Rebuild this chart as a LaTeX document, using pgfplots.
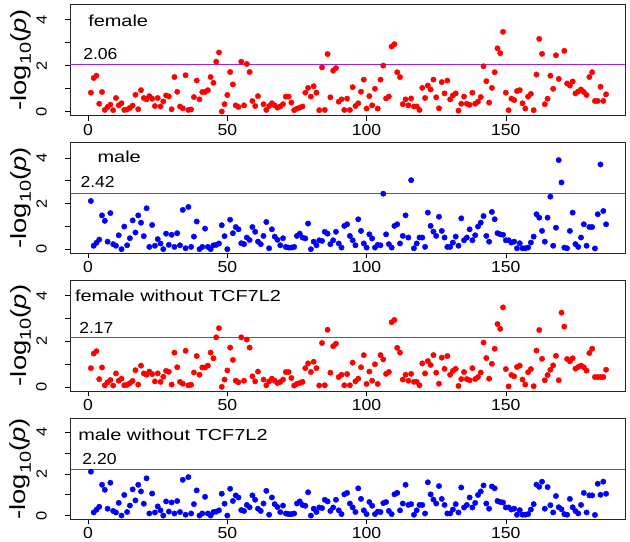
\documentclass[border=0pt]{standalone}
\usepackage{fontspec}
\setmainfont[FakeStretch=1.25]{Liberation Sans}
\newfontfamily\numfont[FakeStretch=1.1]{Liberation Sans}
\usepackage{pgfplots}
\pgfplotsset{compat=1.18}
\definecolor{rred}{RGB}{255,0,0}
\definecolor{rblue}{RGB}{0,0,255}
\definecolor{rpurple}{RGB}{160,32,240}
\tikzset{ttl/.style={anchor=base west, font=\fontsize{16}{18}\selectfont},
         thl/.style={anchor=base west, font=\numfont\fontsize{16}{18}\selectfont},
         ylb/.style={rotate=90, anchor=south, inner sep=0pt, font=\numfont\fontsize{15}{17}\selectfont}}
\newcommand{\ylabs}{%
  \node[ylb] at ([xshift=-23bp]axis cs:-6.5,0) {0};
  \node[ylb] at ([xshift=-23bp]axis cs:-6.5,2) {2};
  \node[ylb] at ([xshift=-23bp]axis cs:-6.5,4) {4};}
\pgfplotsset{panel/.style={
  scale only axis, width=555bp,
  xmin=-6.5, xmax=192.8, ymin=-0.18, ymax=4.68,
  xtick={0,50,100,150}, ytick={0,1,2,3,4}, yticklabels={,,,,},
  tick align=outside, major tick length=5bp,
  xtick pos=bottom, ytick pos=left,
  tick style={black, line width=0.6pt},
  axis line style={black!85, line width=0.8pt},
  /pgf/number format/assume math mode=true,
  xticklabel style={font=\numfont\fontsize{16}{18}\selectfont},
  ylabel={-log\raisebox{-0.22em}{\fontsize{16}{16}\selectfont 10}(\textit{p})},
  ylabel style={at={(axis description cs:0,0.5)}, anchor=base, yshift=44bp, inner sep=0pt, font=\fontsize{22}{24}\selectfont},
  anchor=south west, clip=false,
},
pts/.style={only marks, mark=*, mark size=2.7bp, mark options={draw=#1, fill=#1}},
thr/.style={draw=rpurple, color=rpurple, line width=1.1bp, no marks},
}
\begin{document}
\begin{tikzpicture}[x=1bp,y=1bp]
\path[use as bounding box] (0,0) rectangle (630,542);
% ---------- female
\begin{axis}[panel, height=111.7bp, at={(70bp,426.3bp)}]
\addplot[thr] coordinates {(-6.5,2.06) (192.8,2.06)};
\addplot[pts=rred] coordinates {
(1,0.82)(2,1.46)(3,1.56)(4,0.34)(5,0.85)(6,0.07)(7,0.20)(8,0.30)(9,0.06)(10,0.59)
(11,0.27)(12,0.36)(13,0.07)(14,0.09)(15,0.16)(16,0.26)(17,0.73)(18,0.10)(19,0.93)(20,0.59)
(21,0.53)(22,0.67)(23,0.56)(24,0.24)(25,0.59)(26,0.22)(27,0.44)(28,0.70)(29,0.66)(30,0.10)
(31,1.50)(32,0.86)(33,0.22)(34,0.14)(35,1.58)(36,0.07)(37,0.09)(38,0.63)(39,1.35)(40,0.53)
(41,0.85)(42,0.85)(43,0.93)(44,1.50)(45,1.25)(46,2.17)(47,2.57)(48,0.00)(49,0.32)(50,0.72)
(51,1.72)(52,1.18)(53,0.27)(54,0.20)(55,2.17)(56,0.27)(57,2.07)(58,1.72)(59,0.46)(60,0.24)
(61,0.67)(63,0.32)(64,0.07)(65,0.24)(66,0.36)(67,0.27)(68,0.17)(69,0.22)(70,0.32)
(71,0.65)(72,0.65)(73,0.39)(74,0.06)(75,0.13)(76,0.17)(77,0.22)(78,0.82)(79,1.03)(80,0.65)
(81,1.10)(82,0.82)(83,0.06)(84,1.92)(85,0.07)(86,2.50)(87,0.62)(88,1.78)(89,1.89)(90,0.43)
(91,0.53)(92,0.07)(93,0.56)(94,0.07)(95,1.06)(96,0.24)(97,0.36)(98,0.86)(99,1.39)(100,0.13)
(101,0.67)(102,0.27)(103,0.99)(104,0.13)(105,1.39)(106,2.00)(107,0.57)(108,0.65)(109,2.83)(110,2.93)
(111,1.71)(112,1.50)(113,0.32)(114,0.53)(115,0.27)(116,0.57)(117,0.22)(118,0.22)(119,0.07)(120,1.03)
(121,0.59)(122,1.13)(123,0.96)(124,1.39)(125,0.62)(126,0.14)(127,1.28)(128,0.79)(129,1.35)(130,0.53)
(131,0.70)(132,0.79)(133,0.04)(134,0.34)(135,0.65)(136,0.34)(137,0.29)(138,0.82)(139,0.34)(140,0.43)
(141,0.63)(142,1.97)(143,1.32)(144,0.39)(145,1.03)(146,1.71)(147,2.75)(148,2.54)(149,3.47)(150,0.82)
(151,0.06)(152,0.56)(153,0.50)(154,0.89)(155,0.93)(156,0.36)(157,0.13)(158,0.65)(159,0.77)(160,0.06)
(161,1.61)(162,3.16)(163,2.51)(164,0.32)(165,0.56)(166,1.56)(167,0.99)(168,2.45)(169,1.42)
(171,2.64)(172,1.22)(173,1.13)(174,1.31)(175,0.79)(176,0.87)(177,0.96)(178,0.85)(179,0.72)(180,1.50)
(181,1.71)(182,0.46)(183,0.46)(184,1.08)(185,0.46)(186,0.75)};
\node[ttl] at (axis cs:-1.2,3.72) {female};
\node[thl] at (axis cs:-3.0,2.28) {2.06};
\ylabs
\end{axis}
% ---------- male
\begin{axis}[panel, height=111bp, at={(70bp,288.7bp)}]
\addplot[thr] coordinates {(-6.5,2.42) (192.8,2.42)};
\addplot[pts=rblue] coordinates {
(1,2.11)(2,0.15)(3,0.28)(4,0.42)(5,1.48)(6,1.24)(7,0.33)(8,1.58)(9,0.22)(10,0.15)
(11,0.61)(12,0.00)(13,0.99)(14,0.17)(15,0.48)(16,1.26)(17,0.73)(18,1.48)(19,1.16)(20,0.57)
(21,1.79)(22,0.10)(23,1.06)(24,0.15)(25,0.44)(26,0.25)(27,0.00)(28,0.68)(29,0.19)(30,0.63)
(31,0.10)(32,0.70)(33,0.17)(34,1.72)(35,0.04)(36,1.85)(37,0.10)(38,0.55)(39,1.21)(40,0.00)
(41,0.10)(42,0.90)(43,0.10)(44,0.00)(45,0.17)(46,0.19)(47,0.25)(48,1.05)(49,0.57)(50,0.00)
(51,1.29)(52,0.70)(53,0.97)(54,0.87)(55,0.26)(56,0.22)(57,0.51)(58,0.40)(59,0.97)(60,0.76)
(61,0.33)(62,0.22)(63,0.58)(64,1.19)(65,0.04)(66,0.87)(67,0.55)(68,0.41)(69,0.17)(70,0.48)
(71,0.10)(72,0.07)(73,0.07)(74,0.10)(75,0.58)(76,0.68)(77,0.51)(78,0.47)(79,1.12)(80,0.00)
(81,0.33)(82,0.17)(83,0.39)(84,0.36)(85,0.76)(86,0.68)(87,0.22)(88,0.39)(89,0.76)(90,0.25)
(91,0.07)(92,1.02)(93,1.09)(94,0.58)(95,0.39)(96,0.17)(97,1.31)(98,0.80)(99,0.25)(100,0.07)
(101,0.65)(102,0.47)(103,0.07)(104,0.19)(105,0.17)(106,2.43)(107,0.65)(108,0.22)(109,0.07)(110,1.02)
(111,1.09)(112,0.25)(113,0.58)(114,1.48)(115,0.51)(116,3.02)(117,0.04)(118,0.25)(119,0.51)(120,0.51)
(121,0.10)(122,1.60)(123,1.02)(124,0.77)(125,0.58)(126,1.42)(127,0.80)(128,0.51)(129,0.10)(130,0.10)
(131,0.29)(132,0.55)(133,0.15)(134,1.35)(135,0.39)(136,0.51)(137,0.87)(138,0.39)(139,0.61)(140,0.99)
(141,1.16)(142,1.45)(143,0.58)(144,0.33)(145,1.63)(146,1.31)(147,0.70)(148,0.65)(149,0.63)(150,0.39)
(151,0.39)(152,0.29)(153,0.33)(154,0.04)(155,0.26)(156,0.04)(157,0.04)(158,0.07)(159,0.29)(160,0.55)
(161,1.53)(162,1.38)(163,0.80)(164,0.33)(165,1.38)(166,2.30)(167,0.15)(168,0.94)(169,3.90)(170,2.92)
(171,0.07)(172,0.04)(173,0.80)(174,1.60)(175,0.22)(176,0.10)(177,0.51)(178,1.09)(179,0.15)(180,0.97)
(181,0.97)(182,0.03)(183,1.53)(184,3.71)(185,1.67)(186,1.09)};
\node[ttl] at (axis cs:2.15,3.78) {male};
\node[thl] at (axis cs:-3.95,2.72) {2.42};
\ylabs
\end{axis}
% ---------- female without TCF7L2
\begin{axis}[panel, height=111bp, at={(70bp,151bp)}]
\addplot[thr] coordinates {(-6.5,2.17) (192.8,2.17)};
\addplot[pts=rred] coordinates {
(1,0.82)(2,1.46)(3,1.56)(4,0.34)(5,0.85)(6,0.07)(7,0.20)(8,0.30)(9,0.06)(10,0.59)
(11,0.27)(12,0.36)(13,0.07)(14,0.09)(15,0.16)(16,0.26)(17,0.73)(18,0.10)(19,0.93)(20,0.59)
(21,0.53)(22,0.67)(23,0.56)(24,0.24)(25,0.59)(26,0.22)(27,0.44)(28,0.70)(29,0.66)(30,0.10)
(31,1.50)(32,0.86)(33,0.22)(34,0.14)(35,1.58)(36,0.07)(37,0.09)(38,0.63)(39,1.35)(40,0.53)
(41,0.85)(42,0.85)(43,0.93)(44,1.50)(45,1.25)(46,2.17)(47,2.57)(48,0.00)(49,0.32)(50,0.72)
(51,1.72)(52,1.18)(53,0.27)(54,0.20)(55,2.17)(56,0.27)(57,2.07)(58,1.72)(59,0.46)(60,0.24)
(61,0.67)(63,0.32)(64,0.07)(65,0.24)(66,0.36)(67,0.27)(68,0.17)(69,0.22)(70,0.32)
(71,0.65)(72,0.65)(73,0.39)(74,0.06)(75,0.13)(76,0.17)(77,0.22)(78,0.82)(79,1.03)(80,0.65)
(81,1.10)(82,0.82)(83,0.06)(84,1.92)(85,0.07)(86,2.50)(87,0.62)(88,1.78)(89,1.89)(90,0.43)
(91,0.53)(92,0.07)(93,0.56)(94,0.07)(95,1.06)(96,0.24)(97,0.36)(98,0.86)(99,1.39)(100,0.13)
(101,0.67)(102,0.27)(103,0.99)(104,0.13)(105,1.39)(106,1.20)(107,0.57)(108,0.65)(109,2.83)(110,2.93)
(111,1.71)(112,1.50)(113,0.32)(114,0.53)(115,0.27)(116,0.57)(117,0.22)(118,0.22)(119,0.07)(120,1.03)
(121,0.59)(122,1.13)(123,0.96)(124,1.39)(125,0.62)(126,0.14)(127,1.28)(128,0.79)(129,1.35)(130,0.53)
(131,0.70)(132,0.79)(133,0.04)(134,0.34)(135,0.65)(136,0.34)(137,0.29)(138,0.82)(139,0.34)(140,0.43)
(141,0.63)(142,1.94)(143,1.26)(144,0.36)(145,1.01)(146,1.67)(147,2.75)(148,2.54)(149,3.48)(150,0.78)
(151,0.02)(152,0.52)(153,0.46)(154,0.87)(155,0.93)(156,0.32)(157,0.10)(158,0.64)(159,0.78)(160,0.03)
(161,1.59)(162,2.49)(163,1.23)(164,0.29)(165,0.52)(166,0.75)(167,0.94)(168,1.36)(169,0.29)(170,3.25)
(171,2.64)(172,1.22)(173,1.12)(174,1.25)(175,0.80)(176,0.87)(177,0.93)(178,0.86)(179,0.71)(180,1.48)
(181,1.67)(182,0.43)(183,0.43)(184,0.43)(185,0.43)(186,0.75)};
\node[ttl] at (axis cs:-5.96,3.72) {female without TCF7L2};
\node[thl] at (axis cs:-4.4,2.35) {2.17};
\ylabs
\end{axis}
% ---------- male without TCF7L2
\begin{axis}[panel, height=101bp, at={(70bp,22.7bp)}]
\addplot[thr] coordinates {(-6.5,2.20) (192.8,2.20)};
\addplot[pts=rblue] coordinates {
(1,2.11)(2,0.15)(3,0.28)(4,0.42)(5,1.48)(6,1.24)(7,0.33)(8,1.58)(9,0.22)(10,0.15)
(11,0.61)(12,0.00)(13,0.99)(14,0.17)(15,0.48)(16,1.26)(17,0.73)(18,1.48)(19,1.16)(20,0.57)
(21,1.79)(22,0.10)(23,1.06)(24,0.15)(25,0.44)(26,0.25)(27,0.00)(28,0.68)(29,0.19)(30,0.63)
(31,0.10)(32,0.70)(33,0.17)(34,1.72)(35,0.04)(36,1.85)(37,0.10)(38,0.55)(39,1.21)(40,0.00)
(41,0.10)(42,0.90)(43,0.10)(44,0.00)(45,0.17)(46,0.19)(47,0.25)(48,1.05)(49,0.57)(50,0.00)
(51,1.29)(52,0.70)(53,0.97)(54,0.87)(55,0.26)(56,0.22)(57,0.51)(58,0.40)(59,0.97)(60,0.76)
(61,0.33)(62,0.22)(63,0.58)(64,1.19)(65,0.04)(66,0.87)(67,0.55)(68,0.41)(69,0.17)(70,0.48)
(71,0.10)(72,0.07)(73,0.07)(74,0.10)(75,0.58)(76,0.68)(77,0.51)(78,0.47)(79,1.12)(80,0.00)
(81,0.33)(82,0.17)(83,0.39)(84,0.36)(85,0.76)(86,0.68)(87,0.22)(88,0.39)(89,0.76)(90,0.25)
(91,0.07)(92,1.02)(93,1.09)(94,0.58)(95,0.39)(96,0.17)(97,1.31)(98,0.80)(99,0.25)(100,0.07)
(101,0.65)(102,0.47)(103,0.07)(104,0.19)(105,0.17)(106,0.60)(107,0.65)(108,0.22)(109,0.07)(110,1.02)
(111,1.09)(112,0.25)(113,0.58)(114,1.48)(115,0.51)(116,0.55)(117,0.04)(118,0.25)(119,0.51)(120,0.51)
(121,0.10)(122,1.60)(123,1.02)(124,0.77)(125,0.58)(126,1.42)(127,0.80)(128,0.51)(129,0.10)(130,0.10)
(131,0.29)(132,0.55)(133,0.15)(134,1.35)(135,0.39)(136,0.51)(137,0.87)(138,0.39)(139,0.61)(140,0.99)
(141,1.16)(142,1.45)(143,0.58)(144,0.33)(145,1.40)(146,1.31)(147,0.70)(148,0.65)(149,0.63)(150,0.39)
(151,0.39)(152,0.29)(153,0.33)(154,0.04)(155,0.26)(156,0.04)(157,0.04)(158,0.07)(159,0.29)(160,0.55)
(161,1.49)(162,1.38)(163,1.63)(164,0.33)(165,1.37)(166,0.50)(167,0.15)(168,0.94)(169,0.40)(170,0.30)
(171,0.07)(172,0.04)(173,0.80)(174,0.40)(175,0.22)(176,0.10)(177,0.51)(178,1.09)(179,0.15)(180,0.97)
(181,0.97)(182,0.03)(183,1.53)(184,1.00)(185,1.63)(186,1.05)};
\node[ttl] at (axis cs:-4.8,3.6) {male without TCF7L2};
\node[thl] at (axis cs:-3.3,2.44) {2.20};
\ylabs
\end{axis}
\end{tikzpicture}
\end{document}
